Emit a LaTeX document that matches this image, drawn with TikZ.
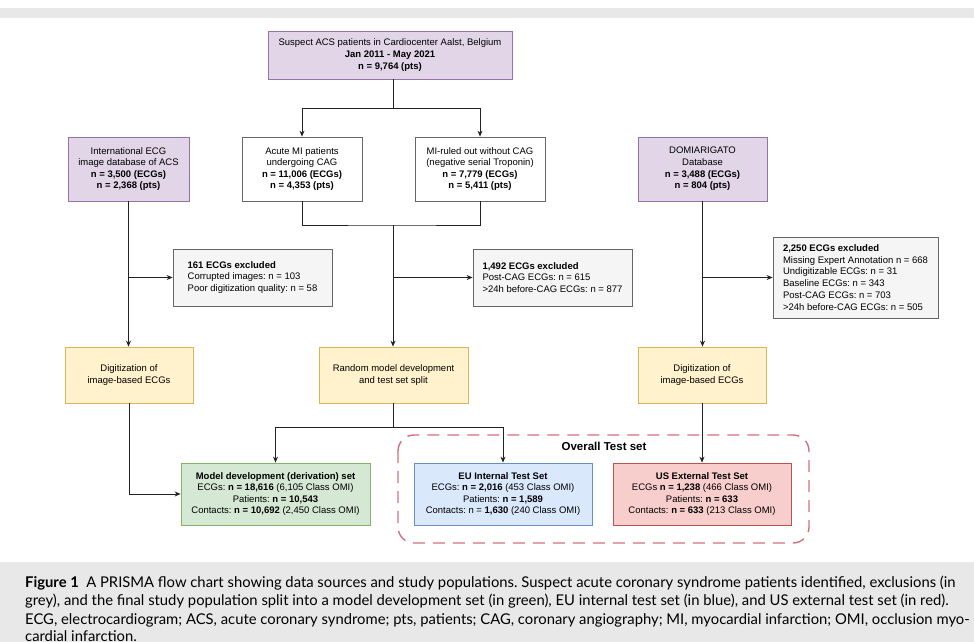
\documentclass[tikz,border=0pt]{standalone}
\usepackage{fontspec}
\setmainfont{Liberation Sans}
\newfontfamily\capfont{Lato}
\usetikzlibrary{arrows.meta}
\definecolor{purfill}{HTML}{E1D5E7}\definecolor{purline}{HTML}{9673A6}
\definecolor{yelfill}{HTML}{FFF2CC}\definecolor{yelline}{HTML}{D6B656}
\definecolor{grnfill}{HTML}{D5E8D4}\definecolor{grnline}{HTML}{82B366}
\definecolor{blufill}{HTML}{DAE8FC}\definecolor{bluline}{HTML}{6C8EBF}
\definecolor{redfill}{HTML}{F8CECC}\definecolor{redline}{HTML}{B85450}
\definecolor{gryfill}{HTML}{F5F5F5}\definecolor{gryline}{HTML}{666666}
\definecolor{dashred}{HTML}{D4707C}
\definecolor{capbg}{HTML}{E8E8E8}
\definecolor{conn}{HTML}{222222}
\frenchspacing
\begin{document}
\begin{tikzpicture}[x=1pt,y=-1pt,
  txt/.style={font=\fontsize{9.5}{11.6}\selectfont},
  box/.style={txt, draw=#1, line width=0.8pt, inner sep=0pt, align=center},
  purbox/.style={box=purline, fill=purfill},
  whtbox/.style={box=gryline, fill=white},
  yelbox/.style={box=yelline, fill=yelfill},
  grnbox/.style={box=grnline, fill=grnfill},
  blubox/.style={box=bluline, fill=blufill},
  redbox/.style={box=redline, fill=redfill},
  exbox/.style={font=\fontsize{9.5}{11.8}\selectfont, draw=gryline, fill=gryfill, line width=0.8pt, inner sep=0pt, align=left},
  line/.style={draw=conn, line width=0.8pt},
  arr/.style={line, -{Stealth[length=6pt,width=5pt]}},
  capline/.style={anchor=base west, inner sep=0pt, font=\capfont\fontsize{14.8}{18}\selectfont}
]
\useasboundingbox (0,0) rectangle (974,642);
\fill[white] (0,0) rectangle (974,642);
\fill[capbg] (0,8) rectangle (974,18);
\fill[capbg] (0,562) rectangle (974,642);

% dashed group
\draw[dashred, line width=1.4pt, dash pattern=on 12pt off 8pt, rounded corners=16pt] (398,435) rectangle (809,543);
\node[font=\bfseries\fontsize{11.5}{13}\selectfont, inner sep=0pt] (overall) at (604,446) {Overall Test set};

\node[purbox, minimum width=244, minimum height=48] (top) at (390,55)
  {Suspect ACS patients in Cardiocenter Aalst, Belgium\\ \textbf{Jan 2011 - May 2021}\\ \textbf{n = 9,764 (pts)}};
\node[purbox, minimum width=121, minimum height=64] (intl) at (128.5,169)
  {International ECG\\ image database of ACS\\ \textbf{n = 3,500 (ECGs)}\\ \textbf{n = 2,368 (pts)}};
\node[whtbox, minimum width=120, minimum height=64] (acute) at (302,169)
  {Acute MI patients\\ undergoing CAG\\ \textbf{n = 11,006 (ECGs)}\\ \textbf{n = 4,353 (pts)}};
\node[whtbox, minimum width=130, minimum height=64] (ruled) at (480,169)
  {MI-ruled out without CAG\\ (negative serial Troponin)\\ \textbf{n = 7,779 (ECGs)}\\ \textbf{n = 5,411 (pts)}};
\node[purbox, minimum width=129, minimum height=64] (domi) at (702.5,169)
  {DOMIARIGATO\\ Database\\ \textbf{n = 3,488 (ECGs)}\\ \textbf{n = 804 (pts)}};

\node[exbox, minimum width=159, minimum height=57] (ex1) at (252.5,277.5)
  {\textbf{161 ECGs excluded}\\ Corrupted images: n = 103\\ Poor digitization quality: n = 58};
\node[exbox, minimum width=159, minimum height=57] (ex2) at (552.5,277.5)
  {\textbf{1,492 ECGs excluded}\\ Post-CAG ECGs: n = 615\\ >24h before-CAG ECGs: n = 877};
\node[exbox, minimum width=165, minimum height=81] (ex3) at (855.5,277.5)
  {\textbf{2,250 ECGs excluded}\\ Missing Expert Annotation n = 668\\ Undigitizable ECGs: n = 31\\ Baseline ECGs: n = 343\\ Post-CAG ECGs: n = 703\\ >24h before-CAG ECGs: n = 505};

\node[yelbox, minimum width=128, minimum height=56] (dig1) at (129,375)
  {Digitization of\\ image-based ECGs};
\node[yelbox, minimum width=149, minimum height=56] (rand) at (393.5,375)
  {Random model development\\ and test set split};
\node[yelbox, minimum width=128, minimum height=56] (dig2) at (702,375)
  {Digitization of\\ image-based ECGs};

\node[grnbox, minimum width=189, minimum height=62] (model) at (275.5,494)
  {\textbf{Model development (derivation) set}\\ ECGs: \textbf{n = 18,616} (6,105 Class OMI)\\ Patients: \textbf{n = 10,543}\\ Contacts: \textbf{n = 10,692} (2,450 Class OMI)};
\node[blubox, minimum width=178, minimum height=62] (eu) at (503,494)
  {\textbf{EU Internal Test Set}\\ ECGs: \textbf{n = 2,016} (453 Class OMI)\\ Patients: \textbf{n = 1,589}\\ Contacts: n = \textbf{1,630} (240 Class OMI)};
\node[redbox, minimum width=178, minimum height=62] (us) at (702,494)
  {\textbf{US External Test Set}\\ ECGs \textbf{n = 1,238} (466 Class OMI)\\ Patients: \textbf{n = 633}\\ Contacts: \textbf{n = 633} (213 Class OMI)};

% connectors
\coordinate (split) at (393,108);
\coordinate (join) at (393,225);
\coordinate (split2) at (393,427);
\draw[line] (top.south -| split) -- (split);
\draw[arr] (split) -| (acute.north);
\draw[arr] (split) -| (ruled.north);
\draw[line] (acute.south) |- (join) -| (ruled.south);
\draw[arr] (join) -- (rand.north -| join);
\draw[arr] (join |- ex2.west) -- (ex2.west);
\draw[arr] (intl.south) -- (dig1.north -| intl.south);
\draw[arr] (intl.south |- ex1.west) -- (ex1.west);
\draw[arr] (domi.south) -- (dig2.north -| domi.south);
\draw[arr] (domi.south |- ex3.west) -- (ex3.west);
\draw[line] (rand.south -| split2) -- (split2);
\draw[arr] (split2) -| (model.north);
\draw[arr] (split2) -| (eu.north);
\draw[arr] (dig1.south) |- (model.west);
\draw[arr] (dig2.south) -- (us.north);

% caption
\node[capline] (cap1) at (25,587) {\textbf{Figure 1}\enspace A PRISMA flow chart showing data sources and study populations. Suspect acute coronary syndrome patients identified, exclusions (in};
\node[capline] (cap2) at (25,605.5) {grey), and the final study population split into a model development set (in green), EU internal test set (in blue), and US external test set (in red).};
\node[capline] (cap3) at (25,624) {ECG, electrocardiogram; ACS, acute coronary syndrome; pts, patients; CAG, coronary angiography; MI, myocardial infarction; OMI, occlusion myo-};
\node[capline] (cap4) at (25,641) {cardial infarction.};
\end{tikzpicture}
\end{document}
